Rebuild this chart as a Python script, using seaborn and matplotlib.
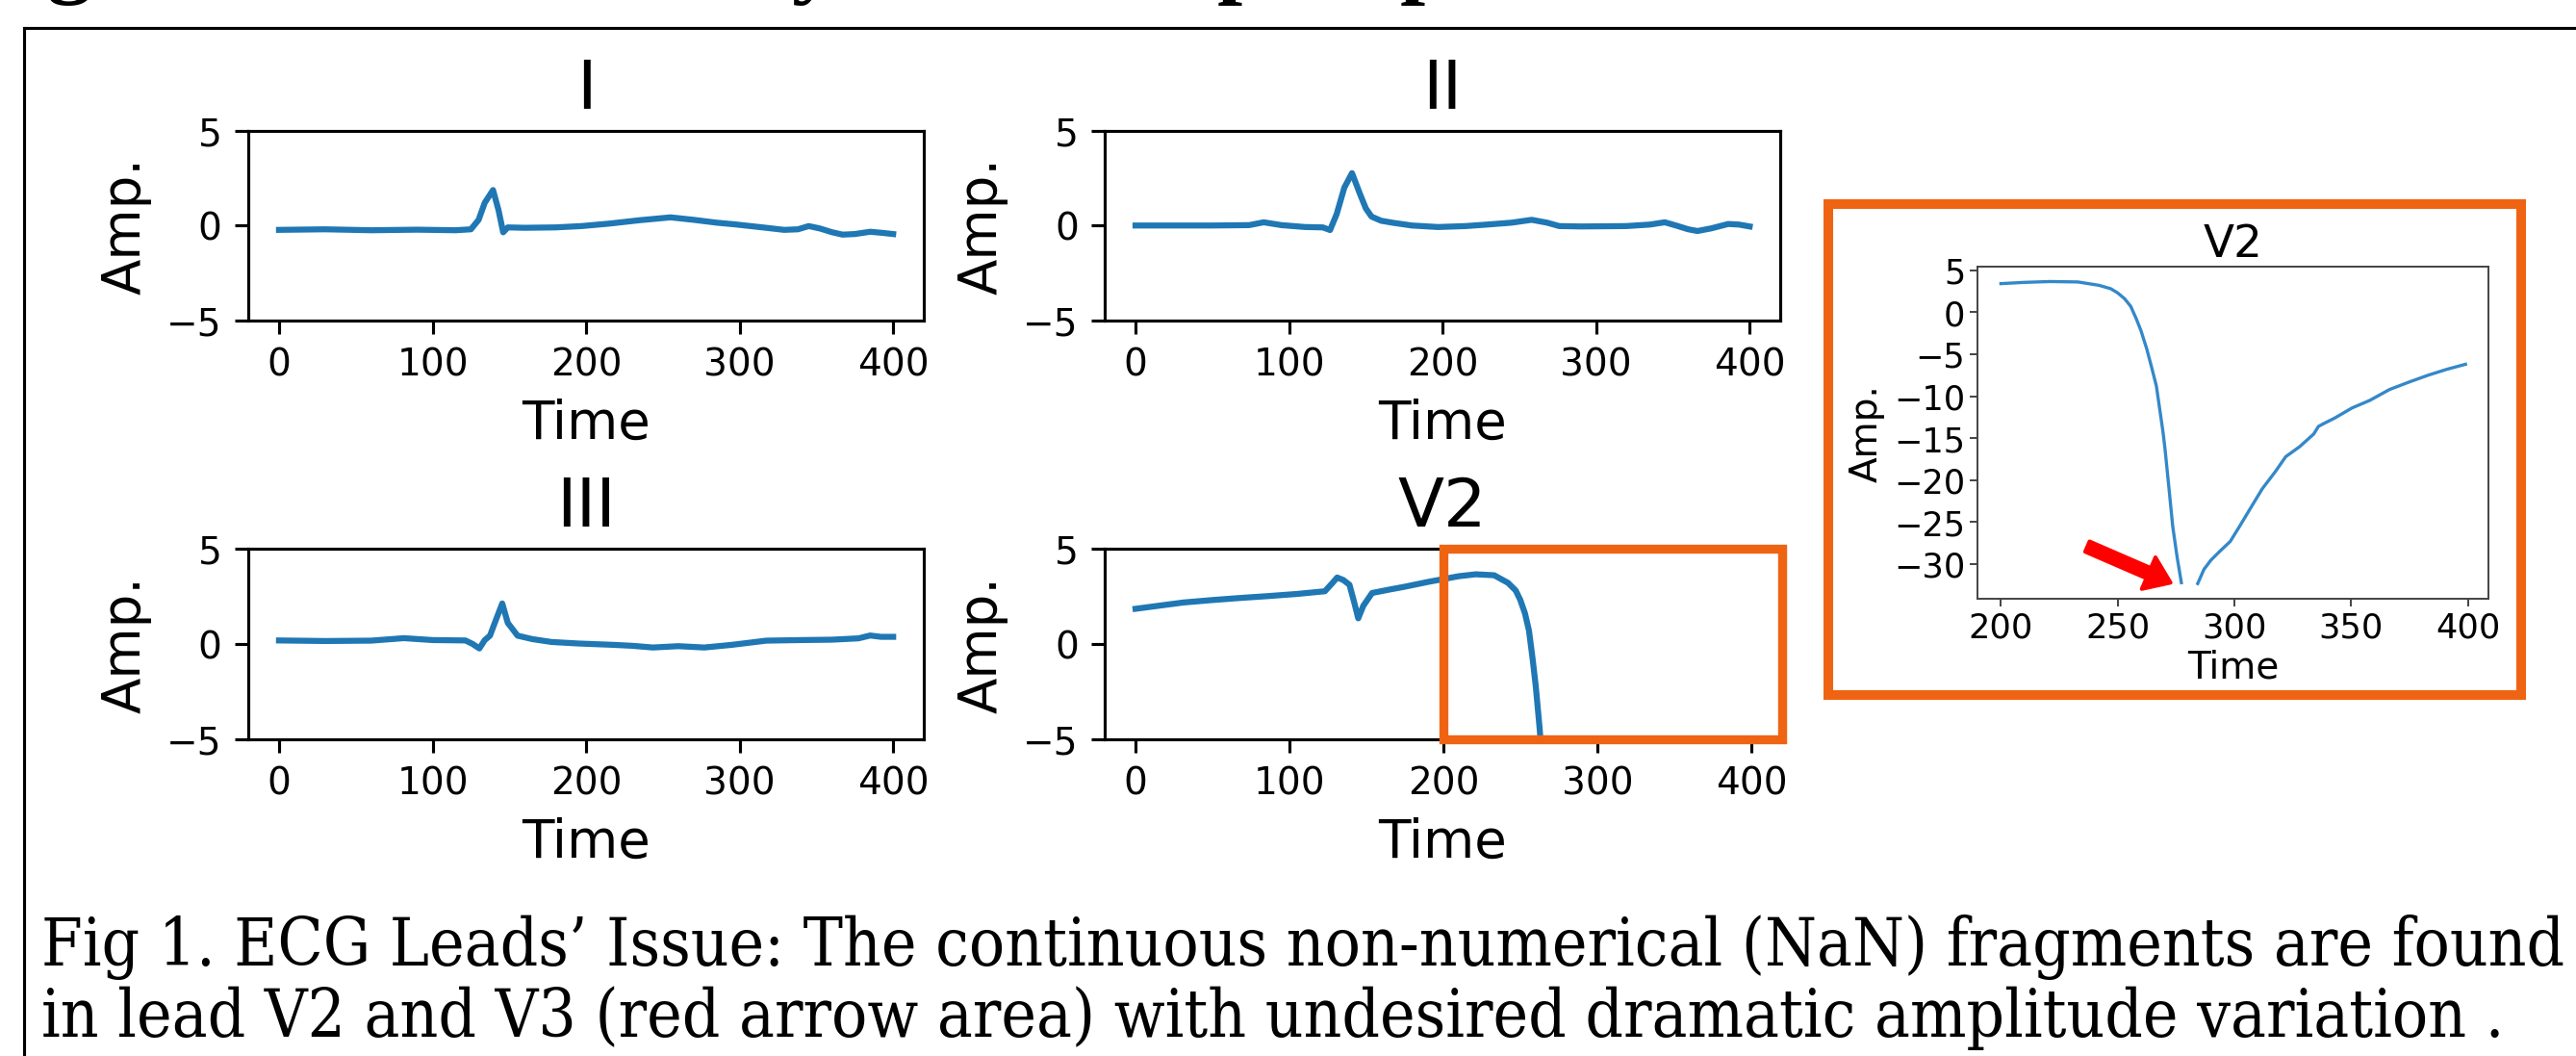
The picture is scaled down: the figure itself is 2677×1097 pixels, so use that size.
import numpy as np
import pandas as pd
import seaborn as sns
import matplotlib.pyplot as plt
from matplotlib.patches import Rectangle

# ---- values ----
lead1_time = [0, 30, 60, 90, 115, 125, 130, 134, 139.4, 143, 146, 149, 160, 180, 197, 215, 235, 255,
              270, 285, 297, 315, 329, 338, 345, 352, 360, 367, 375, 385, 392, 400]
lead1_amp = [-0.23, -0.2, -0.25, -0.22, -0.25, -0.2, 0.3, 1.2, 1.87, 0.8, -0.36, -0.1, -0.12, -0.1, -0.03,
             0.1, 0.28, 0.43, 0.3, 0.15, 0.06, -0.1, -0.23, -0.2, -0.03, -0.15, -0.35, -0.48, -0.45,
             -0.33, -0.38, -0.45]

lead2_time = [0, 25, 50, 74, 83.5, 95, 110.5, 122, 126.7, 131, 136, 141, 146, 150, 153.7, 160, 168, 180,
              197, 215, 229, 245, 258, 268, 276, 290, 305, 319.6, 335, 344.7, 352, 360, 366, 375, 386,
              393, 400]
lead2_amp = [0, 0, 0, 0.02, 0.17, 0.02, -0.08, -0.1, -0.24, 0.6, 2.0, 2.76, 1.7, 0.9, 0.47, 0.25, 0.14,
             0.0, -0.08, -0.03, 0.05, 0.15, 0.3, 0.15, -0.03, -0.05, -0.04, -0.03, 0.05, 0.17, 0.0, -0.2,
             -0.29, -0.15, 0.08, 0.05, -0.05]

lead3_time = [0, 30, 60, 81.4, 100, 121.4, 126, 130.5, 134, 137.4, 141, 145.4, 149, 155.4, 165, 177.4,
              195, 217.4, 230, 243.4, 260, 277, 295, 317.4, 340, 360, 377.4, 385, 392, 400]
lead3_amp = [0.18, 0.15, 0.17, 0.3, 0.2, 0.18, 0.0, -0.24, 0.2, 0.43, 1.2, 2.12, 1.1, 0.43, 0.25, 0.1,
             0.02, -0.05, -0.1, -0.19, -0.12, -0.19, -0.05, 0.17, 0.2, 0.22, 0.29, 0.44, 0.37, 0.37]

# V2 with the NaN fragment (gap between ~278 and ~284)
v2_time = [0, 15, 31, 50, 70, 85, 105, 123, 128, 131, 135, 139, 142, 144.7, 148, 153.7, 165, 175, 190,
           200, 210, 221, 233, 242, 247, 250, 253, 255.6, 258, 260, 262.5, 264.5, 266.6, 268, 269.4,
           270.3, 272, 273.6, 275.5, 277.3, 280, 284.3, 287, 290, 294, 298.2, 302, 307.2, 312, 317.5,
           322, 328, 334, 336, 338, 343, 350.4, 358, 366.5, 375, 383, 391, 399]
v2_amp = [1.84, 2.0, 2.17, 2.3, 2.42, 2.5, 2.62, 2.76, 3.2, 3.48, 3.35, 3.1, 2.2, 1.34, 2.0, 2.67, 2.85,
          3.0, 3.25, 3.4, 3.55, 3.65, 3.6, 3.2, 2.8, 2.3, 1.6, 0.7, -0.8, -2.2, -4.4, -6.5, -8.8, -11.5,
          -14.2, -16.3, -21.0, -25.5, -29.2, -32.2, np.nan, -32.3, -30.6, -29.5, -28.4, -27.3, -25.6,
          -23.2, -21.0, -19.0, -17.2, -16.0, -14.5, -13.6, -13.3, -12.6, -11.4, -10.5, -9.2, -8.3,
          -7.5, -6.8, -6.2]

lead_names = ["I", "II", "III", "V2"]

caption_lines = [
    "Fig 1. ECG Leads\u2019 Issue: The continuous non-numerical (NaN) fragments are found",
    "in lead V2 and V3 (red arrow area) with undesired dramatic amplitude variation .",
]

W, H = 2677, 1097
DPI = 281
ECG_BLUE = "#1f77b4"
ORANGE = "#EF6413"


def frac(l, t, r, b):
    # pixel box (left, top, right, bottom) -> figure fractions
    return [l / W, 1 - b / H, (r - l) / W, (b - t) / H]


def lead_df(t, a):
    df = pd.DataFrame({"Time": t, "Amp.": a})
    df["seg"] = df["Amp."].isna().cumsum()
    return df.dropna()


fig = plt.figure(figsize=((W + 0.3) / DPI, (H + 0.3) / DPI), dpi=DPI)
fig.patch.set_facecolor("white")

boxes = [(258, 136, 960, 333), (1148, 136, 1850, 333), (258, 570, 960, 768), (1148, 570, 1850, 768)]
series = [(lead1_time, lead1_amp), (lead2_time, lead2_amp), (lead3_time, lead3_amp), (v2_time, v2_amp)]

for name, box, (t, a) in zip(lead_names, boxes, series):
    ax = fig.add_axes(frac(*box))
    sns.lineplot(data=lead_df(t, a), x="Time", y="Amp.", units="seg", estimator=None,
                 color=ECG_BLUE, linewidth=1.6, ax=ax)
    ax.set_ylim(-5, 5)
    ax.set_yticks([-5, 0, 5])
    ax.set_xticks(range(0, 401, 100))
    ax.set_title(name, fontsize=18)
    ax.set_xlabel("Time", fontsize=14)
    ax.set_ylabel("Amp.", fontsize=14)
    ax.tick_params(labelsize=10)
    if name == "V2":
        ax.add_patch(Rectangle((200, -5), 220, 10, fill=False, ec=ORANGE, lw=2.4,
                               clip_on=False, zorder=5))

# zoomed V2 inset
axi = fig.add_axes(frac(2055, 277, 2586, 622))
v2 = lead_df(v2_time, v2_amp)
v2 = v2[v2["Time"] >= 200]
sns.lineplot(data=v2, x="Time", y="Amp.", units="seg", estimator=None,
             color="#3488c8", linewidth=0.85, ax=axi)
axi.set_xticks(range(200, 401, 50))
axi.set_yticks(range(-30, 6, 5))
axi.set_title("V2", fontsize=12, pad=2.5)
axi.set_xlabel("Time", fontsize=10, labelpad=1.5)
axi.set_ylabel("Amp.", fontsize=10, labelpad=2.5)
axi.tick_params(labelsize=9, length=2, width=0.5, pad=1.3, color="#444444")
for s in axi.spines.values():
    s.set_linewidth(0.5)
    s.set_color("#444444")
axi.annotate("", xy=(272.7, -32.2), xytext=(237, -27.9),
             arrowprops=dict(arrowstyle="simple,head_length=6.4,head_width=9.2,tail_width=3.0",
                             color="red", shrinkA=0, shrinkB=0, mutation_scale=1))

# frames
fig.add_artist(Rectangle((1900 / W, 1 - 722 / H), 720 / W, 510 / H, transform=fig.transFigure,
                         fill=False, ec=ORANGE, lw=2.56))
fig.add_artist(Rectangle((25 / W, -0.1), 1.2, (1 - 29 / H) + 0.1, transform=fig.transFigure,
                         fill=False, ec="black", lw=0.8))

# cut-off heading above the frame (only descenders visible)
for ch, xp in [("g", 48), ("y", 822), ("p", 1265), ("p", 1455)]:
    fig.text(xp / W, 1 + 14 / H, ch, family="Liberation Serif", fontweight="bold",
             fontsize=24, va="baseline", ha="left")

# caption, scaled to the reference line width
cap_font = dict(family="DejaVu Serif", fontstretch="condensed", va="baseline", ha="left")
cap1 = fig.text(43 / W, 1 - 1003 / H, caption_lines[0], fontsize=20, **cap_font)
cap2 = fig.text(43 / W, 1 - 1077 / H, caption_lines[1], fontsize=20, **cap_font)
fig.canvas.draw()
w1 = cap1.get_window_extent().width
fs = 20 * 2619 / w1
cap1.set_fontsize(fs)
cap2.set_fontsize(fs)

fig.savefig("out.png", dpi=DPI)
